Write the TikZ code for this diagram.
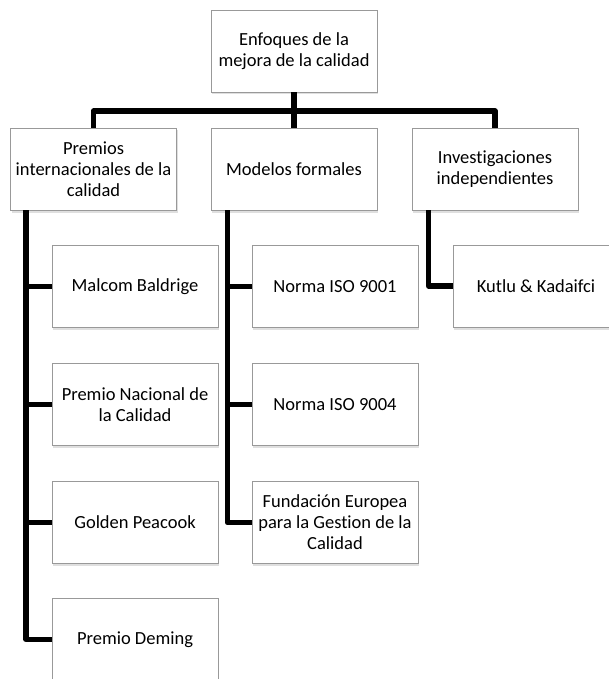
\documentclass[tikz,border=0pt]{standalone}
\usepackage{fontspec}
\setmainfont[Ligatures=NoCommon]{Carlito}
\usetikzlibrary{shadows}
\begin{document}
\begin{tikzpicture}[x=1pt,y=-1pt,
  box/.style={draw=black!40, line width=0.9pt, fill=white, minimum width=166pt, minimum height=82pt,
    inner sep=2pt, align=center, font=\fontsize{18.5}{21}\selectfont,
    drop shadow={opacity=0.25, shadow xshift=1pt, shadow yshift=-2.5pt}},
  link/.style={line width=5.5pt, line join=round, black}]
\useasboundingbox (0,0) rectangle (609,679);
% nodes
\node[box] (top) at (294,51) {Enfoques de la\\mejora de la calidad};
\node[box] (premios) at (93.5,169) {Premios\\internacionales de la\\calidad};
\node[box] (modelos) at (294,169) {Modelos formales};
\node[box] (invest) at (495,169) {Investigaciones\\independientes};
\node[box] (malcom) at (135,286.5) {Malcom Baldrige};
\node[box] (nacional) at (135,404.5) {Premio Nacional de\\la Calidad};
\node[box] (golden) at (135,522.5) {Golden Peacook};
\node[box] (deming) at (135,639.5) {Premio Deming};
\node[box] (iso1) at (335,286.5) {Norma ISO 9001};
\node[box] (iso4) at (335,404.5) {Norma ISO 9004};
\node[box] (fund) at (335,522.5) {Fundación Europea\\para la Gestion de la\\Calidad};
\node[box] (kutlu) at (536,286) {Kutlu \& Kadaifci};
% connector helper coordinates
\coordinate (bus) at (0,111);
\coordinate (lv) at ([xshift=16pt]premios.south west);
\coordinate (mv) at ([xshift=17pt]modelos.south west);
\coordinate (rv) at ([xshift=17pt]invest.south west);
% connectors
\draw[link] (top.south) -- (top.south |- bus);
\draw[link] (premios.north) |- (invest.north |- bus) -- (invest.north);
\draw[link] (modelos.north) -- (modelos.north |- bus);
\draw[link] (lv) |- (deming.west);
\foreach \n in {malcom,nacional,golden}{\draw[link] (\n.west) -- (\n.west -| lv);}
\draw[link] (mv) |- (fund.west);
\foreach \n in {iso1,iso4}{\draw[link] (\n.west) -- (\n.west -| mv);}
\draw[link] (rv) |- (kutlu.west);
\end{tikzpicture}
\end{document}
